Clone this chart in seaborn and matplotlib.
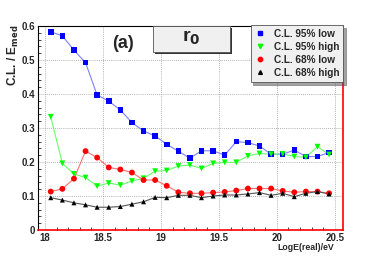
import matplotlib
matplotlib.use("Agg")
import matplotlib.pyplot as plt
import seaborn as sns
import pandas as pd
from matplotlib.lines import Line2D
from matplotlib.patches import Rectangle
from matplotlib.ticker import MultipleLocator

# energy bins (log10 E / eV)
log_e = [18.05, 18.15, 18.25, 18.35, 18.45, 18.55, 18.65, 18.75, 18.85, 18.95,
         19.05, 19.15, 19.25, 19.35, 19.45, 19.55, 19.65, 19.75, 19.85, 19.95,
         20.05, 20.15, 20.25, 20.35, 20.45]

cl95_low = [0.583, 0.571, 0.529, 0.492, 0.397, 0.379, 0.353, 0.316, 0.291, 0.277,
            0.252, 0.232, 0.211, 0.233, 0.233, 0.220, 0.260, 0.257, 0.247, 0.223,
            0.223, 0.235, 0.216, 0.216, 0.228]
cl95_high = [0.333, 0.196, 0.165, 0.154, 0.129, 0.138, 0.132, 0.144, 0.152, 0.173,
             0.175, 0.188, 0.191, 0.181, 0.196, 0.199, 0.199, 0.218, 0.225, 0.223,
             0.224, 0.216, 0.214, 0.245, 0.222]
cl68_low = [0.113, 0.121, 0.151, 0.232, 0.213, 0.184, 0.178, 0.169, 0.147, 0.147,
            0.130, 0.111, 0.108, 0.108, 0.110, 0.112, 0.116, 0.122, 0.122, 0.122,
            0.115, 0.111, 0.113, 0.113, 0.108]
cl68_high = [0.095, 0.088, 0.080, 0.074, 0.067, 0.067, 0.069, 0.076, 0.083, 0.096,
             0.095, 0.102, 0.102, 0.095, 0.100, 0.103, 0.103, 0.106, 0.110, 0.102,
             0.108, 0.098, 0.108, 0.113, 0.106]

labels = ["C.L. 95% low", "C.L. 95% high", "C.L. 68% low", "C.L. 68% high"]
series = [cl95_low, cl95_high, cl68_low, cl68_high]
colors = ["#0000ff", "#00ff00", "#ff0000", "#000000"]
line_colors = ["#7f7fff", "#66ff66", "#ff7070", "#555555"]
markers = ["s", "v", "o", "^"]
msizes = [4.0, 4.2, 4.2, 3.6]

sns.set_style("white")
plt.rcParams["font.family"] = ["Liberation Sans", "DejaVu Sans"]
plt.rcParams["font.weight"] = "bold"

fig = plt.figure(figsize=(3.82, 2.57), dpi=100)
ax = fig.add_axes([38 / 382, 1 - 230 / 257, 305 / 382, 204 / 257])

for lab, vals, c, lc, m, ms in zip(labels, series, colors, line_colors, markers, msizes):
    df = pd.DataFrame({"x": log_e, "y": vals})
    sns.lineplot(data=df, x="x", y="y", ax=ax, color=lc, linewidth=0.8)
    sns.scatterplot(data=df, x="x", y="y", ax=ax, color=c, marker=m, s=ms ** 2,
                    edgecolor="none", linewidth=0, zorder=3)

ax.set_xlim(17.94, 20.57)
ax.set_ylim(0, 0.6)
ax.xaxis.set_minor_locator(MultipleLocator(0.1))
ax.yaxis.set_minor_locator(MultipleLocator(0.02))
ax.set_xticks([18, 18.5, 19, 19.5, 20, 20.5])
ax.set_xticklabels(["18", "18.5", "19", "19.5", "20", "20.5"])
ax.set_yticks([0, 0.1, 0.2, 0.3, 0.4, 0.5, 0.6])
ax.set_yticklabels(["0", "0.1", "0.2", "0.3", "0.4", "0.5", "0.6"])
ax.tick_params(which="both", direction="in", labelsize=7, top=False, right=False, pad=2)
ax.tick_params(which="major", length=5, width=0.6)
ax.tick_params(which="minor", length=2.5, width=0.6, left=True, bottom=True)
ax.grid(True, which="major", linestyle=(0, (1, 1.5)), color="#999999", linewidth=0.6)
ax.set_xlabel("")
ax.set_ylabel("")

for side in ["left", "top"]:
    ax.spines[side].set_color("black")
    ax.spines[side].set_linewidth(0.8)
for side in ["right", "bottom"]:
    ax.spines[side].set_color("red")
    ax.spines[side].set_linewidth(1.2)

fig.text(334 / 382, 1 - 248 / 257, "LogE(real)/eV", fontsize=6.3, fontweight="bold",
         ha="right", va="center")
fig.text(13 / 382, 1 - 25 / 257, "C.L. / E$_{\\mathbf{med}}$", fontsize=8.5,
         fontweight="bold", rotation=90, ha="center", va="top")

ax.text(18.67, 0.55, "(a)", fontsize=13, fontweight="bold", ha="center", va="center")

# title box with shadow
bx0, bx1 = (153 - 38) / 305, (230 - 38) / 305
by0, by1 = (230 - 52) / 204, 1.0
sh = 2.0 / 305
ax.add_patch(Rectangle((bx0 + sh, by0 - 2.0 / 204), bx1 - bx0, by1 - by0,
                       transform=ax.transAxes, facecolor="#333333", edgecolor="none",
                       zorder=5, clip_on=False))
ax.add_patch(Rectangle((bx0, by0), bx1 - bx0, by1 - by0, transform=ax.transAxes,
                       facecolor="#f0f0f0", edgecolor="#555555", linewidth=0.6,
                       zorder=6, clip_on=False))
ax.text((bx0 + bx1) / 2, (by0 + by1) / 2 + 0.005, "r$_{\\mathbf{0}}$",
        transform=ax.transAxes, fontsize=14, fontweight="bold", ha="center",
        va="center", zorder=7)

handles = [Line2D([], [], color=c, marker=m, linestyle="none", markersize=ms * 0.75)
           for c, m, ms in zip(colors, markers, msizes)]
leg = ax.legend(handles, labels, loc="upper right", bbox_to_anchor=(1.0, 1.005),
                fontsize=7.2, frameon=True, fancybox=False, shadow=True,
                borderpad=0.4, labelspacing=0.3, handlelength=1.0, handletextpad=0.9,
                borderaxespad=0.0)
leg.get_frame().set_facecolor("#f0f0f0")
leg.get_frame().set_edgecolor("#555555")
leg.get_frame().set_linewidth(0.6)
leg.get_frame().set_alpha(1)

fig.savefig("out.png", dpi=100)
